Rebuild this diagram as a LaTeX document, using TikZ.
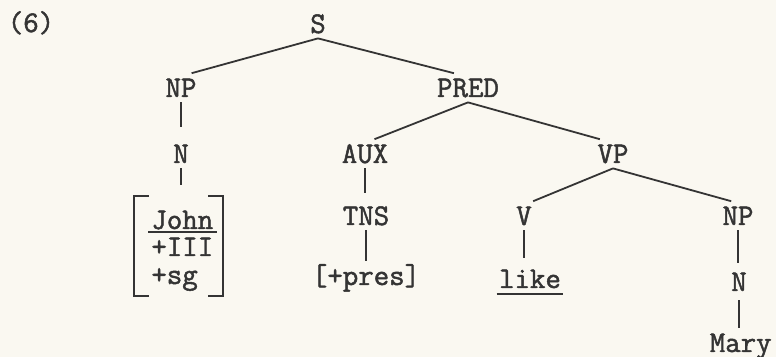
\documentclass[tikz,border=0pt]{standalone}
\usepackage{fontspec}
\usetikzlibrary{calc,fit}
\newfontfamily\typewriter{Latin Modern Mono}[FakeBold=1.6]
\definecolor{paper}{RGB}{250,248,241}
\definecolor{ink}{RGB}{52,52,52}
\begin{document}
\begin{tikzpicture}[x=0.5pt,y=-0.5pt,
  lab/.style={font=\fontsize{15}{17}\typewriter, text=ink, inner xsep=0.5pt,
    inner ysep=2.5pt, text height=9.2pt, text depth=0pt, anchor=base},
  feature/.style={lab, inner ysep=1pt, anchor=base west},
  edge/.style={draw=ink, line width=0.9pt},
  brk/.style={draw=ink, line width=1pt}]
% page
\fill[paper] (0,0) rectangle (776,357);
\useasboundingbox (0,0) rectangle (776,357);

% example number
\node[lab] (num) at (31,32) {(6)};

% tree labels
\node[lab] (S)    at (318,33)  {S};
\node[lab] (NPa)  at (181,97)  {NP};
\node[lab] (PRED) at (468,97)  {PRED};
\node[lab] (Na)   at (181,163) {N};
\node[lab] (AUX)  at (365,163) {AUX};
\node[lab] (VP)   at (613,163) {VP};
\node[lab] (TNS)  at (366,225) {TNS};
\node[lab] (V)    at (524,225) {V};
\node[lab] (NPb)  at (738,225) {NP};
\node[lab] (pres) at (366,285) {[+pres]};
\node[lab] (like) at (530,288) {like};
\node[lab] (Nb)   at (739,291) {N};
\node[lab, anchor=base east] (Mary) at (773,352) {Mary};

% feature matrix for John
\node[feature] (John) at (150,229) {John};
\node[feature] (III)  at (150,256) {+III};
\node[feature] (sg)   at (150,284) {+sg};
\node[fit=(John)(III)(sg), inner sep=0pt] (feat) {};
\draw[brk] ($(feat.north west)+(-1,-12)$) -| ($(feat.south west)+(-16,9)$) -- ++(15,0);
\draw[brk] ($(feat.north east)+(-7,-12)$) -| ($(feat.south east)+(8,9)$) -- ++(-15,0);
\draw[brk] ($(John.base west)+(-2,3)$) -- ($(John.base east)+(2,3)$);
\draw[brk] ($(like.base west)+(-1,6)$) -- ($(like.base east)+(1,6)$);

% branches
\draw[edge] (S.south) -- (NPa.54);
\draw[edge] (S.south) -- (PRED.134);
\draw[edge] (PRED.south) -- (AUX.57);
\draw[edge] (PRED.south) -- (VP.132);
\draw[edge] (VP.south) -- (V.north east);
\draw[edge] (VP.south) -- (NPb.115);
\draw[edge, shorten >=6pt] (NPa.south) -- (Na.north);
\draw[edge, shorten >=11.3pt] (Na.south) -- (Na.south |- feat.north);
\draw[edge, shorten >=4pt] (AUX.south) -- (AUX.south |- TNS.north);
\draw[edge] (TNS.south) -- (TNS.south |- pres.north);
\draw[edge, shorten >=3pt] (V.south) -- (V.south |- like.north);
\draw[edge, shorten >=2pt] (NPb.south) -- (NPb.south |- Nb.north);
\draw[edge, shorten <=2pt] (Nb.south) -- (Nb.south |- Mary.north);
\end{tikzpicture}
\end{document}
